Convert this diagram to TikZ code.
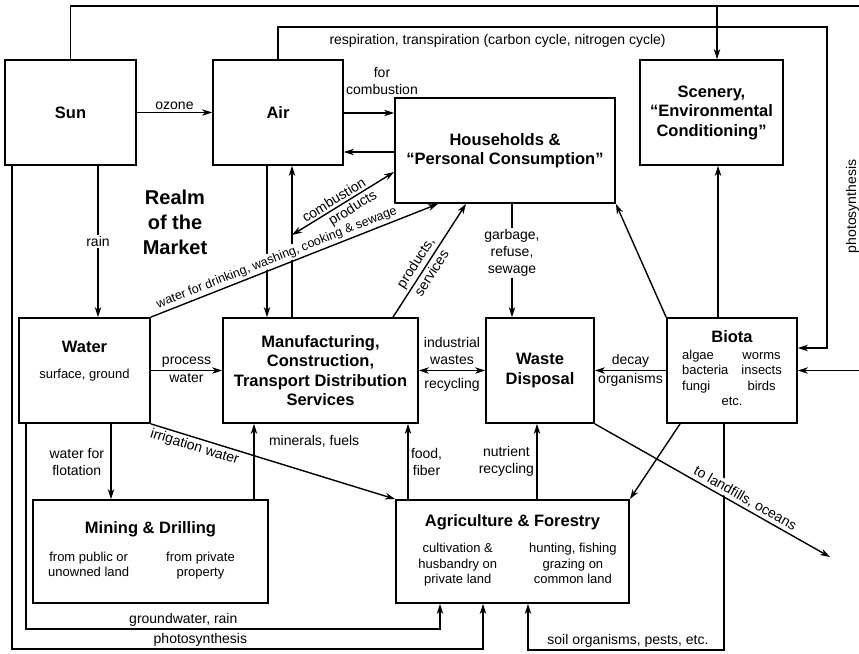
\documentclass[tikz,border=0pt]{standalone}
\usepackage{fontspec}
\setmainfont{Liberation Sans}
\usetikzlibrary{positioning,arrows.meta}

\newcommand{\boxfont}{\fontsize{16.5}{19.5}\selectfont\bfseries}
\newcommand{\notefont}{\fontsize{13}{15.5}\selectfont\mdseries}
\newcommand{\lblfont}{\fontsize{14}{17}\selectfont}

\tikzset{
  box/.style={draw, line width=1.8pt, minimum height=105pt, inner sep=2pt, align=center, font=\boxfont},
  lbl/.style={font=\lblfont, align=center, inner sep=1.5pt, outer sep=1.5pt},
}

\begin{document}
\begin{tikzpicture}[x=1pt, y=-1pt, line width=1.4pt, >={Stealth[length=10pt,width=6.5pt,inset=3pt]}]
    \useasboundingbox (0,0) rectangle (859,653);

    \node[box, minimum width=131pt] (sun) at (70.5,112.5) {Sun};
    \node[box, minimum width=130pt] (air) at (278,112.5) {Air};
    \node[box, minimum width=220pt] (house) at (505,150.5) {Households \&\\“Personal Consumption”};
    \node[box, minimum width=143pt] (scenery) at (711.5,112.5) {Scenery,\\“Environmental\\Conditioning”};
    \node[box, minimum width=131pt] (water) at (84.5,370.5) {};
    \node[font=\boxfont, align=center] (watertxt) at (84.5,361) {Water\\[7pt]{\notefont surface, ground}};
    \node[box, minimum width=195pt] (manuf) at (320.5,370.5) {Manufacturing,\\Construction,\\Transport Distribution\\Services};
    \node[box, minimum width=108pt] (waste) at (540,370.5) {Waste\\Disposal};
    \node[box, minimum width=130pt] (biota) at (732,370.5) {Biota\\[-3pt]{\notefont\begin{tabular}[t]{@{}l@{\hspace{13pt}}c@{}}algae & worms\\bacteria & insects\\fungi & birds\\\multicolumn{2}{c}{etc.}\end{tabular}}};
    \node[box, minimum width=235pt, minimum height=103pt] (mining) at (150.5,551.5) {Mining \& Drilling\\[8pt]{\notefont\begin{tabular}[t]{@{}c@{\hspace{37pt}}c@{\hspace{18pt}}}from public or & from private\\unowned land & property\end{tabular}}};
    \node[box, minimum width=233pt, minimum height=103pt] (agri) at (512.5,551.5) {Agriculture \& Forestry\\[7pt]{\notefont\begin{tabular}[t]{@{\hspace{10pt}}c@{\hspace{32pt}}c@{}}cultivation \& & hunting, fishing\\husbandry on & grazing on\\private land & common land\end{tabular}}};
    \node[font=\fontsize{20}{25}\selectfont\bfseries, align=center] (realm) at (175,222) {Realm\\of the\\Market};

    \coordinate (topjoin) at (717,6);
    \coordinate (cp) at (292,235);
    \coordinate (sea) at (830,557);

    \draw[->] (sun.north) |- (862,6) -- node[lbl, rotate=90, anchor=south, pos=0.55] (photoR) {photosynthesis} (862,0 |- biota.east) -- (biota.east);
    \draw[->] (topjoin) -- (717,0 |- scenery.north);
    \draw[->] (air.north) |- node[lbl, below=4pt, pos=0.70] (resp) {respiration, transpiration (carbon cycle, nitrogen cycle)} (827,27) |- (biota.east |- 0,348);
    \draw[->] (sun.east) -- node[lbl, above] (ozone) {ozone} (air.west);
    \draw[->] (air.east |- 0,113) -- node[lbl, above=15pt, xshift=13pt] (forcomb) {for\\combustion} (house.west |- 0,113);
    \draw[->] (house.west |- 0,152) -- (air.east |- 0,152);
    \draw[->] (98,0 |- sun.south) -- node[lbl, fill=white] (rain) {rain} (98,0 |- water.north);
    \draw[->] (12,0 |- sun.south) |- node[lbl, above, pos=0.7] (photoB) {photosynthesis} (483,649) -- (483,0 |- agri.south);
    \draw[->] (26,0 |- water.south) |- node[lbl, above, pos=0.69] (ground) {groundwater, rain} (440,629) -- (440,0 |- agri.south);
    \draw[->] (111,0 |- water.south) -- node[lbl, left=4pt] (flot) {water for\\flotation} (111,0 |- mining.north);
    \draw[->] (254,0 |- mining.north) -- node[lbl, right=12pt, pos=0.77] (minerals) {minerals, fuels} (254,0 |- manuf.south);
    \draw[->] (water.south east) -- node[lbl, sloped, below, pos=0.19] (irrig) {irrigation water} (agri.north west);
    \draw[->] (water.east) -- node[lbl, above] (process) {process} node[lbl, below] (pwater) {water} (manuf.west);
    \draw[->] (267,0 |- air.south) -- (267,0 |- manuf.north);
    \draw[->] (292,0 |- manuf.north) -- (292,0 |- air.south);
    \draw[->] (water.north east) -- node[lbl, sloped, above, fill=white, pos=0.45, font=\fontsize{12.5}{15}\selectfont] (drink) {water for drinking, washing, cooking \& sewage} (438,0 |- house.south);
    \draw[<->] (cp) -- node[lbl, sloped, above, pos=0.45] (comb) {combustion} node[lbl, sloped, below, pos=0.55] (prod) {products} (house.west |- 0,172);
    \draw[->] (393,0 |- manuf.north) -- node[lbl, sloped, above, pos=0.43] (prods) {products,} node[lbl, sloped, below, pos=0.43] (serv) {services} (466,0 |- house.south);
    \draw[->] (512,0 |- house.south) -- node[lbl, fill=white, pos=0.43] (garb) {garbage,\\refuse,\\sewage} (512,0 |- waste.north);
    \draw[<->] (manuf.east) -- node[lbl, above=3pt] (indw) {industrial\\wastes} node[lbl, below=5pt] (recyc) {recycling} (waste.west);
    \draw[->] (408,0 |- agri.north) -- node[lbl, right] (food) {food,\\fiber} (408,0 |- manuf.south);
    \draw[->] (537,0 |- agri.north) -- node[lbl, left] (nutr) {nutrient\\recycling} (537,0 |- waste.south);
    \draw[->] (biota.west) -- node[lbl, above] (decay) {decay} node[lbl, below] (org) {organisms} (waste.east);
    \draw[->] (biota.north west) -- (house.south east);
    \draw[->] (718,0 |- biota.north) -- (718,0 |- scenery.south);
    \draw[->] (680,0 |- biota.south) -- (agri.north east);
    \draw[->] (724,0 |- biota.south) |- node[lbl, above, pos=0.745] (soil) {soil organisms, pests, etc.} (528,650) -- (528,0 |- agri.south);
    \draw[->] (waste.south east) -- node[lbl, sloped, above, fill=white, pos=0.62] (landfill) {to landfills, oceans} (sea);
\end{tikzpicture}
\end{document}
